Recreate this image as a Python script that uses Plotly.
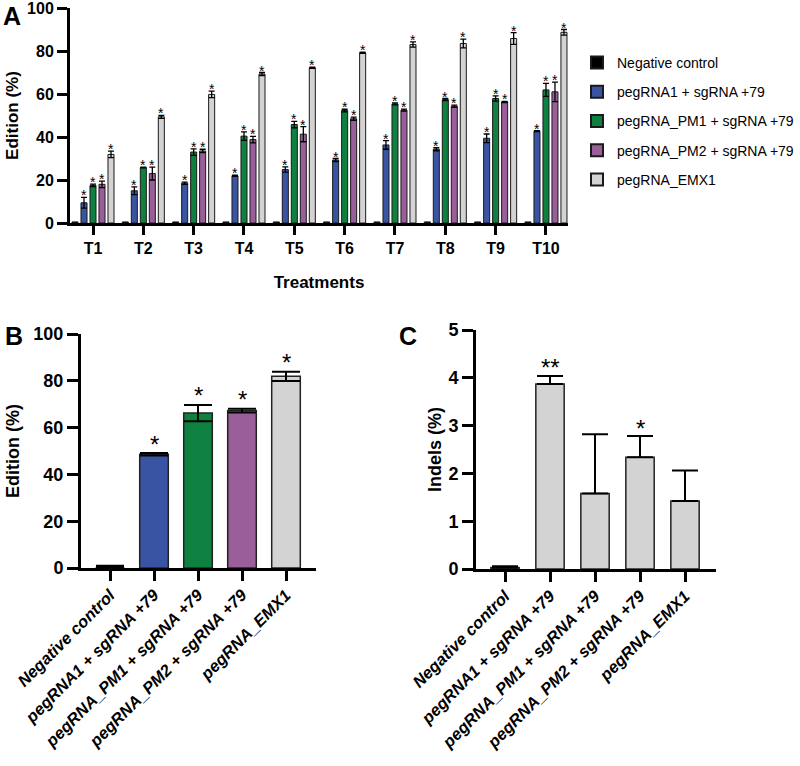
import plotly.graph_objects as go

W, H = 800, 766
FONT = "Liberation Sans, Arial, sans-serif"

# ---------------- Data ----------------
treatments = ["T1", "T2", "T3", "T4", "T5", "T6", "T7", "T8", "T9", "T10"]
series_names = ["Negative control", "pegRNA1 + sgRNA +79", "pegRNA_PM1 + sgRNA +79",
                "pegRNA_PM2 + sgRNA +79", "pegRNA_EMX1"]
colors = ["#000000", "#3a54a4", "#0e8040", "#9a5f9b", "#d3d3d3"]

neg_a = [0.5, 0.5, 0.5, 0.5, 0.5, 0.5, 0.5, 0.5, 0.5, 0.5]
neg_a_err = [0, 0, 0, 0, 0, 0, 0, 0, 0, 0]
blue_a = [9.4, 15.0, 18.5, 22.0, 24.9, 29.3, 36.3, 34.3, 39.4, 42.7]
blue_a_err = [2.5, 1.8, 0.5, 0.3, 1.2, 0.7, 2.0, 0.7, 2.0, 0.2]
green_a = [17.5, 25.8, 33.0, 40.4, 45.8, 52.3, 55.4, 57.4, 57.9, 61.9]
green_a_err = [0.6, 0.2, 1.5, 2.0, 1.5, 0.6, 0.5, 0.5, 1.2, 3.0]
purple_a = [18.0, 23.0, 33.5, 38.8, 41.3, 48.5, 52.5, 54.3, 56.3, 61.0]
purple_a_err = [1.5, 3.0, 0.8, 1.5, 3.5, 0.7, 0.5, 0.5, 0.3, 4.5]
grey_a = [31.9, 49.4, 59.8, 69.3, 72.2, 79.2, 83.0, 83.5, 85.8, 88.7]
grey_a_err = [1.5, 0.7, 1.5, 0.7, 0.3, 0.3, 1.2, 2.0, 2.7, 1.3]

values_a = [neg_a, blue_a, green_a, purple_a, grey_a]
errors_a = [neg_a_err, blue_a_err, green_a_err, purple_a_err, grey_a_err]
stars_a = ["", "*", "*", "*", "*"]

edition_b = [0.2, 48.6, 66.2, 67.3, 81.9]
edition_b_err_plus = [0.8, 0.5, 3.5, 0.8, 2.0]
edition_b_err_minus = [0.0, 0.5, 3.5, 0.8, 2.0]
stars_b = ["", "*", "*", "*", "*"]

indels_c = [0.03, 3.87, 1.58, 2.34, 1.42]
indels_c_err = [0.03, 0.17, 1.24, 0.44, 0.64]
stars_c = ["", "**", "", "*", ""]
colors_c = ["#555555", "#d3d3d3", "#d3d3d3", "#d3d3d3", "#d3d3d3"]

# ---------------- Layout helpers ----------------
def xd(a, b):
    return [a / W, b / W]

def yd(top, bottom):
    return [1 - bottom / H, 1 - top / H]

BARGAP = 0.106
nser = len(series_names)
slot = (1 - BARGAP) / nser

fig = go.Figure()
xs = list(range(len(treatments)))
annotations = []

# Panel A bars
for k in range(nser):
    fig.add_trace(go.Bar(
        x=xs, y=values_a[k], name=series_names[k], legendgroup=f"g{k}",
        marker=dict(color=colors[k], line=dict(color="#1a1a1a", width=1)),
        error_y=dict(type="data", array=errors_a[k], visible=bool(k),
                     color="black", thickness=1.3, width=3),
        xaxis="x", yaxis="y", showlegend=True,
    ))

# Panel A stars
for k in range(1, nser):
    for i in xs:
        annotations.append(dict(
            x=i + (k - (nser - 1) / 2) * slot, y=values_a[k][i] + errors_a[k][i],
            xref="x", yref="y", text=stars_a[k], showarrow=False,
            yanchor="middle", yshift=2,
            font=dict(family=FONT, size=14, color="black")))

# Panel B
fig.add_trace(go.Bar(
    x=list(range(5)), y=edition_b, width=0.65,
    marker=dict(color=colors, line=dict(color="#222222", width=[0, 1.5, 1.5, 1.5, 1.5])),
    error_y=dict(type="data", symmetric=False, array=edition_b_err_plus,
                 arrayminus=edition_b_err_minus, color="black", thickness=2, width=14),
    xaxis="x2", yaxis="y2", showlegend=False,
))
for i in range(5):
    if stars_b[i]:
        annotations.append(dict(
            x=i, y=edition_b[i] + edition_b_err_plus[i], xref="x2", yref="y2",
            text=stars_b[i], showarrow=False, yanchor="middle", yshift=9,
            font=dict(family=FONT, size=24, color="black")))

# Panel C
fig.add_trace(go.Bar(
    x=list(range(5)), y=indels_c, width=0.63,
    marker=dict(color=colors_c, line=dict(color="#222222", width=1.5)),
    error_y=dict(type="data", symmetric=False, array=indels_c_err,
                 arrayminus=[0] * 5, color="black", thickness=2, width=13),
    xaxis="x3", yaxis="y3", showlegend=False,
))
for i in range(5):
    if stars_c[i]:
        annotations.append(dict(
            x=i, y=indels_c[i] + indels_c_err[i], xref="x3", yref="y3",
            text=stars_c[i], showarrow=False, yanchor="middle", yshift=8,
            font=dict(family=FONT, size=24, color="black")))

for letter, px, py in [("A", 12, 16), ("B", 14, 336), ("C", 408, 336)]:
    annotations.append(dict(text=letter, x=px / W, y=1 - py / H, xref="paper", yref="paper",
                            xanchor="center", yanchor="middle", showarrow=False,
                            font=dict(family=FONT, size=25, weight="bold")))

axis_common = dict(showline=True, linecolor="black", linewidth=3, ticks="outside",
                   tickwidth=2.5, tickcolor="black", showgrid=False, zeroline=False,
                   automargin=False, ticklabeloverflow="allow")
tick_font = dict(family=FONT, size=16, color="black", weight="bold")
tick_font_b = dict(family=FONT, size=18, color="black", weight="bold")
title_font = dict(family=FONT, size=17, color="black", weight="bold")
title_font_b = dict(family=FONT, size=18, color="black", weight="bold")
cat_font = dict(family=FONT, size=16.5, color="black", weight="bold", style="italic")

fig.update_layout(
    width=W, height=H, margin=dict(l=0, r=0, t=0, b=0),
    paper_bgcolor="white", plot_bgcolor="white",
    barmode="group", bargap=BARGAP, bargroupgap=0.33,
    font=dict(family=FONT, color="black"),
    xaxis=dict(domain=xd(70, 568), range=[(70 - 93) / 50.33, (568 - 93) / 50.33],
               tickvals=xs, ticktext=treatments, ticklen=9, tickfont=tick_font,
               title=dict(text="Treatments", font=title_font, standoff=20),
               anchor="y", **axis_common),
    yaxis=dict(domain=yd(8, 223), range=[0, 100], tickvals=[0, 20, 40, 60, 80, 100],
               ticklen=10, tickfont=tick_font, ticklabelstandoff=0,
               title=dict(text="Edition (%)", font=title_font, standoff=5),
               anchor="x", **axis_common),
    xaxis2=dict(domain=xd(81, 316), range=[(81 - 110) / 44, (316 - 110) / 44],
                tickvals=list(range(5)), ticktext=series_names, tickangle=-45,
                ticklen=10, tickfont=cat_font, ticklabelstandoff=-2,
                anchor="y2", **axis_common),
    yaxis2=dict(domain=yd(334, 568), range=[0, 100], tickvals=[0, 20, 40, 60, 80, 100],
                ticklen=11, tickfont=tick_font_b, ticklabelstandoff=0,
                title=dict(text="Edition (%)", font=title_font_b, standoff=10),
                anchor="x2", **axis_common),
    xaxis3=dict(domain=xd(476, 716), range=[(476 - 505) / 45, (716 - 505) / 45],
                tickvals=list(range(5)), ticktext=series_names, tickangle=-45,
                ticklen=10, tickfont=cat_font, ticklabelstandoff=-2,
                anchor="y3", **axis_common),
    yaxis3=dict(domain=yd(330, 569), range=[0, 5], tickvals=[0, 1, 2, 3, 4, 5],
                ticklen=11, tickfont=tick_font_b, ticklabelstandoff=0,
                title=dict(text="Indels (%)", font=title_font_b, standoff=3),
                anchor="x3", **axis_common),
    legend=dict(x=577 / W, y=1 - 47 / H, xanchor="left", yanchor="top",
                font=dict(family=FONT, size=14, color="black"),
                tracegroupgap=8, itemsizing="constant", bgcolor="rgba(0,0,0,0)"),
    annotations=annotations,
)

fig.write_html("out.html", config={"displayModeBar": False},
               post_script="document.body.style.margin='0px';")
